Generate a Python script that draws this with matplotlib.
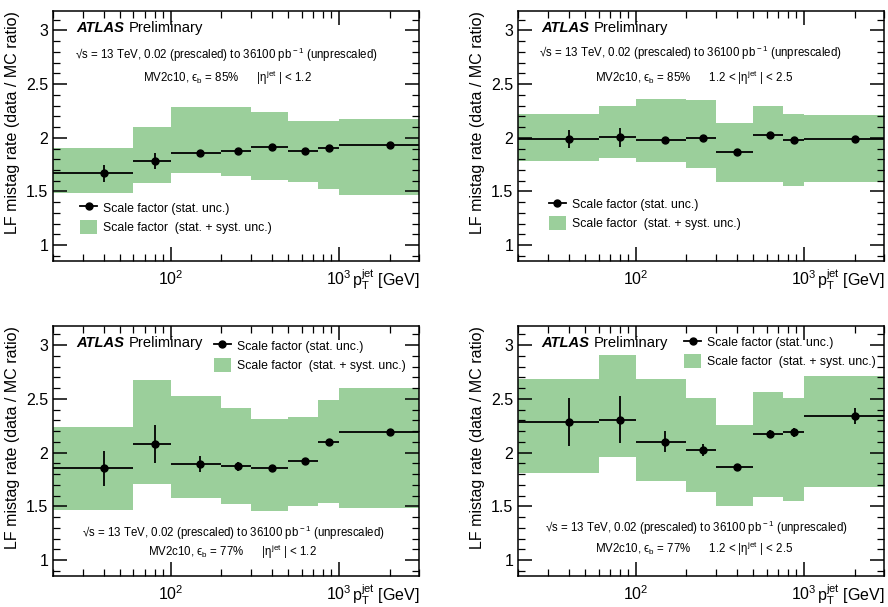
import numpy as np
import matplotlib
matplotlib.use('Agg')
from matplotlib import pyplot as plt
from matplotlib.ticker import MultipleLocator, FixedLocator
from matplotlib.patches import Patch
from matplotlib.lines import Line2D

plt.rcParams['font.family'] = ['Liberation Sans', 'DejaVu Sans']
plt.rcParams['mathtext.fontset'] = 'custom'
plt.rcParams['mathtext.rm'] = 'Liberation Sans'
plt.rcParams['mathtext.it'] = 'Liberation Sans:italic'

# pT bin edges and centres [GeV]
edges = [20, 60, 100, 200, 300, 500, 750, 1000, 3000]
centers = [40, 80, 150, 250, 400, 625, 875, 2000]

# 85%, |eta| < 1.2
sf_85_c = [1.67, 1.78, 1.86, 1.88, 1.91, 1.875, 1.905, 1.93]
stat_85_c = [0.08, 0.075, 0.02, 0.015, 0.015, 0.015, 0.015, 0.01]
up_85_c = [1.905, 2.10, 2.29, 2.285, 2.24, 2.16, 2.16, 2.17]
dn_85_c = [1.49, 1.58, 1.67, 1.645, 1.61, 1.59, 1.52, 1.47]

# 85%, 1.2 < |eta| < 2.5
sf_85_f = [1.99, 2.005, 1.975, 2.0, 1.87, 2.025, 1.98, 1.985]
stat_85_f = [0.085, 0.09, 0.025, 0.01, 0.01, 0.01, 0.01, 0.015]
up_85_f = [2.22, 2.30, 2.36, 2.355, 2.135, 2.295, 2.22, 2.21]
dn_85_f = [1.78, 1.81, 1.77, 1.72, 1.585, 1.585, 1.55, 1.585]

# 77%, |eta| < 1.2
sf_77_c = [1.853, 2.08, 1.893, 1.874, 1.856, 1.927, 2.10, 2.197]
stat_77_c = [0.167, 0.175, 0.075, 0.04, 0.015, 0.02, 0.015, 0.01]
up_77_c = [2.24, 2.68, 2.53, 2.417, 2.318, 2.336, 2.488, 2.603]
dn_77_c = [1.465, 1.707, 1.574, 1.524, 1.459, 1.502, 1.527, 1.487]

# 77%, 1.2 < |eta| < 2.5
sf_77_f = [2.285, 2.307, 2.103, 2.025, 1.862, 2.175, 2.188, 2.338]
stat_77_f = [0.22, 0.22, 0.10, 0.06, 0.02, 0.04, 0.04, 0.075]
up_77_f = [2.69, 2.91, 2.685, 2.513, 2.26, 2.563, 2.51, 2.714]
dn_77_f = [1.815, 1.962, 1.74, 1.637, 1.502, 1.587, 1.546, 1.684]

green = '#9bcf9b'
lumi = '\u221as = 13 TeV, 0.02 (prescaled) to 36100 pb$^{\\rm -1}$ (unprescaled)'

panels = [
    dict(pos=[0.060, 0.5695, 0.412, 0.4124], sf=sf_85_c, st=stat_85_c, up=up_85_c, dn=dn_85_c,
         tag='MV2c10, \u03f5$_{\\rm b}$ = 85%      |\u03b7$^{\\rm jet}$ | < 1.2',
         l1=(0.059, 0.824), l2=(0.246, 0.734), leg=(0.060, 0.262)),
    dict(pos=[0.5837, 0.5695, 0.412, 0.4124], sf=sf_85_f, st=stat_85_f, up=up_85_f, dn=dn_85_f,
         tag='MV2c10, \u03f5$_{\\rm b}$ = 85%      1.2 < |\u03b7$^{\\rm jet}$ | < 2.5',
         l1=(0.057, 0.831), l2=(0.210, 0.734), leg=(0.070, 0.276)),
    dict(pos=[0.060, 0.0507, 0.412, 0.4124], sf=sf_77_c, st=stat_77_c, up=up_77_c, dn=dn_77_c,
         tag='MV2c10, \u03f5$_{\\rm b}$ = 77%      |\u03b7$^{\\rm jet}$ | < 1.2',
         l1=(0.078, 0.174), l2=(0.259, 0.098), leg=(0.425, 0.968)),
    dict(pos=[0.5837, 0.0507, 0.412, 0.4124], sf=sf_77_f, st=stat_77_f, up=up_77_f, dn=dn_77_f,
         tag='MV2c10, \u03f5$_{\\rm b}$ = 77%      1.2 < |\u03b7$^{\\rm jet}$ | < 2.5',
         l1=(0.073, 0.192), l2=(0.210, 0.108), leg=(0.440, 0.982)),
]

fig = plt.figure(figsize=(8.88, 6.07), dpi=100)

lo = np.array(edges[:-1])
hi = np.array(edges[1:])
xc = np.array(centers)

for p in panels:
    ax = fig.add_axes(p['pos'])
    up = np.array(p['up'])
    dn = np.array(p['dn'])
    ax.bar(lo, up - dn, bottom=dn, width=hi - lo, align='edge', color=green, linewidth=0)
    ax.errorbar(xc, p['sf'], yerr=p['st'], xerr=[xc - lo, hi - xc], fmt='o', color='black',
                ms=5, elinewidth=1.3, capsize=0)

    ax.set_xscale('log')
    ax.set_xlim(20, 3000)
    ax.set_ylim(0.85, 3.18)
    ax.yaxis.set_minor_locator(MultipleLocator(0.1))
    ax.set_yticks([1, 1.5, 2, 2.5, 3])
    ax.set_yticklabels(['1', '1.5', '2', '2.5', '3'])
    ax.xaxis.set_major_locator(FixedLocator([100, 1000]))
    ax.set_xticklabels([r'10$^{\rm 2}$', r'10$^{\rm 3}$'])
    ax.tick_params(which='both', direction='in', top=True, right=True, labelsize=11.5)
    ax.tick_params(which='major', length=10, width=1.1)
    ax.tick_params(which='minor', length=5, width=0.9)
    ax.tick_params(axis='x', pad=6)
    for s in ax.spines.values():
        s.set_linewidth(1.1)

    ax.set_ylabel('LF mistag rate (data / MC ratio)', fontsize=11.5, loc='top')
    ax.yaxis.set_label_coords(-0.09, 1.0)
    ax.set_xlabel(r'p$_{\rm T}^{\rm jet}$ [GeV]', fontsize=11.5, loc='right')
    ax.xaxis.set_label_coords(1.0, -0.025)
    ax.xaxis.label.set_verticalalignment('top')

    ax.text(0.064, 0.932, 'ATLAS', transform=ax.transAxes, fontsize=10.6,
            fontweight='bold', fontstyle='italic', va='center')
    ax.text(0.205, 0.932, 'Preliminary', transform=ax.transAxes, fontsize=10.6, va='center')
    ax.text(p['l1'][0], p['l1'][1], lumi, transform=ax.transAxes, fontsize=8.3, va='center')
    ax.text(p['l2'][0], p['l2'][1], p['tag'], transform=ax.transAxes, fontsize=8.3, va='center')

    h1 = Line2D([], [], color='black', marker='o', ms=5, lw=1.3)
    h2 = Patch(facecolor=green, linewidth=0)
    ax.legend([h1, h2], ['Scale factor (stat. unc.)', 'Scale factor  (stat. + syst. unc.)'],
              loc='upper left', bbox_to_anchor=p['leg'], frameon=False, fontsize=8.8,
              handlelength=1.4, handleheight=1.4, handletextpad=0.5, labelspacing=0.4,
              borderaxespad=0)

fig.savefig('out.png', dpi=100)
